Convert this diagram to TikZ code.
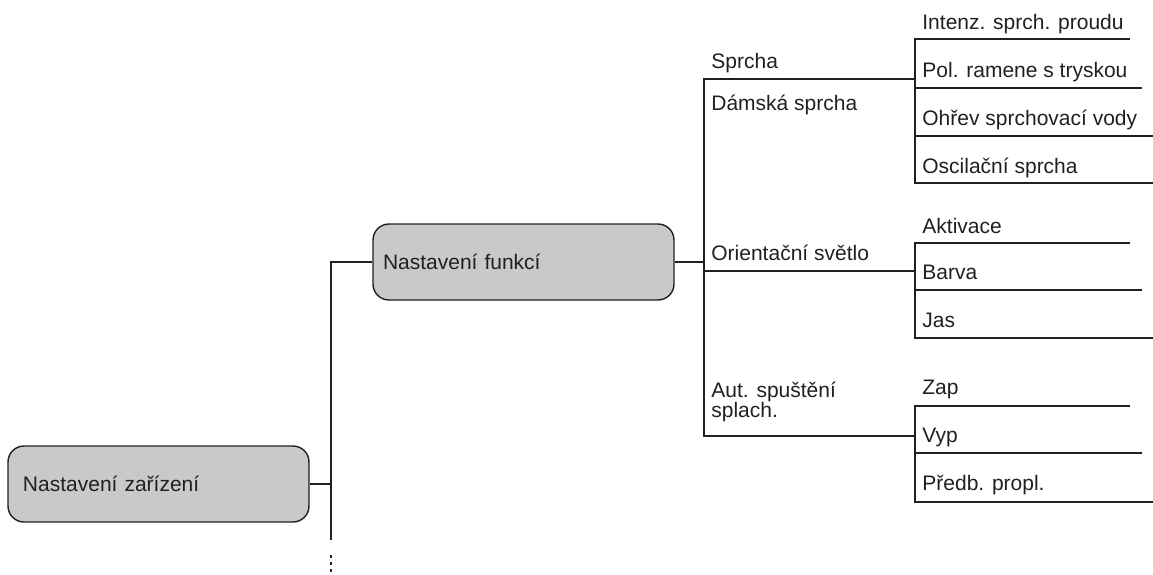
\documentclass[tikz,border=0pt]{standalone}
\usepackage{fontspec}
\setmainfont{Liberation Sans}
\definecolor{boxgray}{RGB}{200,201,203}
\definecolor{ink}{RGB}{35,31,32}
\newcommand{\menufont}{\fontsize{10.5}{10}\selectfont}

\begin{document}
\begin{tikzpicture}[x=0.5pt,y=-0.5pt]
    \tikzstyle{menubox} = [draw=ink,fill=boxgray,line width=.7pt,rounded corners=8pt,
                           minimum width=150.5pt,minimum height=38pt,text width=135.5pt,
                           inner xsep=7.5pt,align=left,text=ink,font=\menufont]
    \tikzstyle{item} = [anchor=base west,inner sep=0pt,text=ink,font=\menufont]
    \tikzstyle{branch} = [draw=ink,line width=.7pt]

    \useasboundingbox (0,0) rectangle (1153,574);

    \node[menubox] (device) at (158.5,484) {Nastavení zařízení};
    \node[menubox,inner xsep=5pt,text width=140.5pt] (functions) at (523.5,262) {Nastavení funkcí};

    \coordinate (trunk) at (331,540);
    \coordinate (more) at (331,573);
    \draw[branch] (device.east) -- (device.east -| trunk);
    \draw[branch] (functions.west) -| (trunk);
    \draw[branch,dash pattern=on 1.5pt off 2pt] (trunk) ++(0,15) -- (more);

    % Second level
    \coordinate (spine) at (704,79);
    \coordinate (shower) at (915,79);
    \coordinate (light) at (915,271);
    \coordinate (flush) at (915,436);
    \draw[branch] (functions.east) -- (functions.east -| spine);
    \draw[branch] (shower) -- (spine) -- (flush -| spine) -- (flush);
    \draw[branch] (light -| spine) -- (light);

    \node[item] (sprcha) at (711,68) {Sprcha};
    \node[item] (ladies) at (711,110) {Dámská sprcha};
    \node[item] (orient) at (711,260) {Orientační světlo};
    \node[item,align=left] (autoflush) at (711,417) {Aut. spuštění\\splach.};

    % Third level: Sprcha
    \coordinate (showertop) at (915,39);
    \coordinate (rintenz) at (1130,39);
    \coordinate (rarm) at (1142,88);
    \coordinate (rheat) at (1153,136);
    \coordinate (rosc) at (1153,183);
    \draw[branch] (rintenz) -- (showertop) -- (rosc -| showertop) -- (rosc);
    \draw[branch] (rarm -| showertop) -- (rarm);
    \draw[branch] (rheat -| showertop) -- (rheat);
    \node[item] (intenz) at (922,29) {Intenz. sprch. proudu};
    \node[item] (arm) at (922,77) {Pol. ramene s tryskou};
    \node[item] (heat) at (922,125) {Ohřev sprchovací vody};
    \node[item] (osc) at (922,173) {Oscilační sprcha};

    % Third level: Orientační světlo
    \coordinate (lighttop) at (915,243);
    \coordinate (ract) at (1130,243);
    \coordinate (rcolour) at (1142,290);
    \coordinate (rbright) at (1153,338);
    \draw[branch] (ract) -- (lighttop) -- (rbright -| lighttop) -- (rbright);
    \draw[branch] (rcolour -| lighttop) -- (rcolour);
    \node[item] (act) at (922,233) {Aktivace};
    \node[item] (colour) at (922,279) {Barva};
    \node[item] (bright) at (922,327) {Jas};

    % Third level: Aut. spuštění splach.
    \coordinate (flushtop) at (915,406);
    \coordinate (ron) at (1130,406);
    \coordinate (roff) at (1142,453);
    \coordinate (rpre) at (1153,502);
    \draw[branch] (ron) -- (flushtop) -- (rpre -| flushtop) -- (rpre);
    \draw[branch] (roff -| flushtop) -- (roff);
    \node[item] (on) at (922,394) {Zap};
    \node[item] (off) at (922,442) {Vyp};
    \node[item] (pre) at (922,490) {Předb. propl.};
\end{tikzpicture}
\end{document}
